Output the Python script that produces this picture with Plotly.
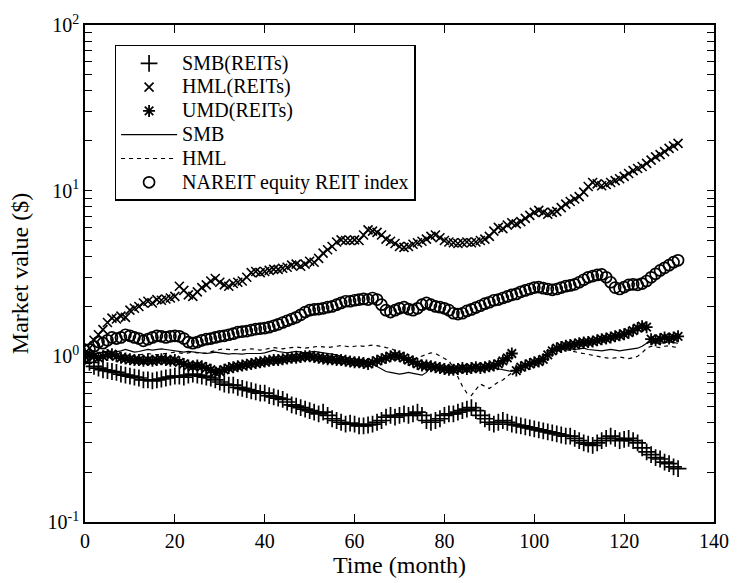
import plotly.graph_objects as go

months = list(range(133))

smb_reits = [1.0, 0.92, 0.87, 0.85, 0.83, 0.82, 0.81, 0.8, 0.78, 0.77, 0.76, 0.75, 0.74, 0.72, 0.72, 0.71, 0.72, 0.73, 0.74, 0.75,
             0.76, 0.76, 0.75, 0.77, 0.78, 0.77, 0.76, 0.75, 0.74, 0.72, 0.7, 0.68, 0.67, 0.67, 0.65, 0.64, 0.63, 0.62, 0.61, 0.6,
             0.6, 0.58, 0.57, 0.56, 0.55, 0.53, 0.51, 0.5, 0.49, 0.48, 0.47, 0.46, 0.45, 0.46, 0.44, 0.42, 0.41, 0.4, 0.39, 0.395,
             0.39, 0.38, 0.38, 0.385, 0.39, 0.4, 0.41, 0.43, 0.44, 0.43, 0.44, 0.45, 0.44, 0.45, 0.46, 0.44, 0.41, 0.4, 0.41, 0.42,
             0.44, 0.45, 0.45, 0.46, 0.47, 0.48, 0.49, 0.47, 0.44, 0.42, 0.4, 0.39, 0.4, 0.41, 0.4, 0.39, 0.385, 0.38, 0.375, 0.37,
             0.365, 0.36, 0.355, 0.35, 0.345, 0.34, 0.335, 0.33, 0.33, 0.32, 0.31, 0.3, 0.295, 0.29, 0.3, 0.31, 0.32, 0.33, 0.32, 0.31,
             0.315, 0.32, 0.31, 0.3, 0.28, 0.265, 0.255, 0.245, 0.24, 0.23, 0.225, 0.215, 0.21]

hml_reits = [1.0, 1.12, 1.25, 1.35, 1.45, 1.6, 1.7, 1.68, 1.75, 1.72, 1.9, 1.95, 2.0, 2.1, 2.15, 2.1, 2.2, 2.18, 2.22, 2.25,
             2.3, 2.65, 2.5, 2.35, 2.3, 2.45, 2.6, 2.7, 2.85, 2.95, 2.8, 2.7, 2.65, 2.75, 2.8, 2.85, 3.0, 3.2, 3.25, 3.2,
             3.25, 3.3, 3.35, 3.35, 3.4, 3.45, 3.55, 3.6, 3.5, 3.6, 3.75, 3.7, 3.9, 4.2, 4.4, 4.6, 4.9, 5.05, 5.0, 5.0,
             5.05, 5.0, 5.4, 5.8, 5.7, 5.6, 5.4, 5.1, 4.95, 4.8, 4.6, 4.55, 4.6, 4.75, 4.85, 4.95, 5.1, 5.3, 5.4, 5.2,
             5.0, 4.9, 4.85, 4.8, 4.85, 4.9, 4.85, 4.9, 5.0, 5.1, 5.3, 5.7, 6.0, 5.9, 6.2, 6.4, 6.3, 6.5, 6.8, 7.1,
             7.4, 7.6, 7.4, 7.2, 7.4, 7.5, 7.9, 8.3, 8.6, 8.9, 9.2, 9.8, 10.6, 11.2, 11.0, 10.7, 10.9, 11.2, 11.5, 11.8,
             12.2, 12.7, 13.2, 13.6, 14.0, 14.6, 15.3, 16.0, 16.5, 17.2, 18.0, 18.6, 19.3]

umd_reits = [1.0, 1.02, 1.0, 0.98, 1.0, 1.02, 1.03, 1.0, 0.98, 0.97, 0.96, 0.95, 0.95, 0.94, 0.95, 0.94, 0.95, 0.96, 0.95, 0.94,
             0.95, 0.92, 0.9, 0.88, 0.87, 0.88, 0.87, 0.85, 0.83, 0.8, 0.81, 0.83, 0.85, 0.86, 0.87, 0.88, 0.89, 0.9, 0.91, 0.92,
             0.93, 0.94, 0.95, 0.95, 0.96, 0.97, 0.98, 0.98, 0.99, 1.0, 1.0, 0.99, 0.98, 0.97, 0.96, 0.96, 0.95, 0.95, 0.94, 0.93,
             0.92, 0.92, 0.91, 0.9, 0.92, 0.94, 0.96, 0.98, 1.0, 1.01, 1.0, 0.98, 0.95, 0.93, 0.9, 0.88, 0.88, 0.87, 0.86, 0.85,
             0.84, 0.83, 0.83, 0.84, 0.85, 0.84, 0.85, 0.86, 0.85, 0.86, 0.87, 0.88, 0.9, 0.94, 0.98, 1.04, 0.82, 0.86, 0.88, 0.9,
             0.92, 0.93, 0.96, 1.02, 1.08, 1.12, 1.14, 1.16, 1.17, 1.18, 1.2, 1.21, 1.22, 1.23, 1.25, 1.27, 1.28, 1.3, 1.32, 1.34,
             1.36, 1.39, 1.43, 1.48, 1.52, 1.5, 1.27, 1.25, 1.27, 1.3, 1.28, 1.3, 1.32]

smb = [1.0, 1.02, 1.04, 1.05, 1.06, 1.07, 1.05, 1.06, 1.08, 1.1, 1.08, 1.06, 1.07, 1.08, 1.1, 1.09, 1.1, 1.11, 1.1, 1.09,
       1.08, 1.07, 1.06, 1.07, 1.06, 1.05, 1.05, 1.04, 1.05, 1.06, 1.05, 1.04, 1.03, 1.04, 1.03, 1.03, 1.04, 1.04, 1.03, 1.04,
       1.05, 1.07, 1.09, 1.07, 1.06, 1.05, 1.06, 1.07, 1.06, 1.05, 1.06, 1.07, 1.06, 1.05, 1.04, 1.03, 1.02, 1.0, 0.98, 0.97,
       0.96, 0.95, 0.94, 0.93, 0.9, 0.87, 0.84, 0.81, 0.8, 0.79, 0.78, 0.79, 0.8, 0.79, 0.78, 0.77, 0.8, 0.86, 0.88, 0.87,
       0.86, 0.85, 0.86, 0.85, 0.84, 0.85, 0.86, 0.85, 0.84, 0.85, 0.86, 0.85, 0.84, 0.83, 0.82, 0.81, 0.83, 0.86, 0.88, 0.9,
       0.93, 0.96, 1.0, 1.04, 1.07, 1.1, 1.11, 1.12, 1.11, 1.1, 1.11, 1.12, 1.1, 1.09, 1.08, 1.08, 1.09, 1.1, 1.09, 1.08,
       1.09, 1.1, 1.11, 1.12, 1.15, 1.2, 1.22, 1.21, 1.2, 1.21, 1.22, 1.21, 1.2]

hml = [1.0, 0.98, 0.97, 0.99, 1.01, 1.0, 0.99, 0.98, 1.0, 1.02, 1.01, 1.0, 1.02, 1.03, 1.04, 1.03, 1.02, 1.03, 1.04, 1.05,
       1.06, 1.05, 1.04, 1.05, 1.06, 1.05, 1.04, 1.05, 1.07, 1.09, 1.1, 1.11, 1.1, 1.09, 1.1, 1.09, 1.1, 1.11, 1.1, 1.09,
       1.1, 1.12, 1.13, 1.12, 1.11, 1.12, 1.13, 1.14, 1.13, 1.12, 1.13, 1.14, 1.15, 1.14, 1.13, 1.14, 1.15, 1.16, 1.15, 1.14,
       1.15, 1.16, 1.15, 1.16, 1.17, 1.16, 1.14, 1.13, 1.12, 1.09, 1.05, 1.0, 0.97, 0.96, 0.98, 1.0, 1.02, 1.05, 1.04, 1.0,
       0.97, 0.94, 0.85, 0.75, 0.66, 0.6, 0.58, 0.63, 0.68, 0.66, 0.64, 0.67, 0.7, 0.72, 0.76, 0.8, 0.84, 0.86, 0.88, 0.9,
       0.93, 0.96, 1.0, 1.04, 1.06, 1.08, 1.09, 1.1, 1.08, 1.06, 1.05, 1.04, 1.03, 1.02, 1.0, 0.99, 0.98, 0.97, 0.98, 0.99,
       0.98, 0.97, 0.98, 1.0, 1.05, 1.12, 1.15, 1.14, 1.13, 1.15, 1.16, 1.14, 1.13]

nareit = [1.0, 1.1, 1.15, 1.22, 1.2, 1.25, 1.3, 1.28, 1.3, 1.35, 1.33, 1.3, 1.28, 1.24, 1.27, 1.3, 1.33, 1.32, 1.3, 1.32,
          1.33, 1.32, 1.28, 1.22, 1.2, 1.22, 1.25, 1.27, 1.28, 1.3, 1.32, 1.33, 1.35, 1.37, 1.4, 1.41, 1.42, 1.44, 1.46, 1.47,
          1.48, 1.5, 1.53, 1.56, 1.6, 1.64, 1.68, 1.72, 1.78, 1.85, 1.9, 1.92, 1.93, 1.95, 1.98, 2.0, 2.05, 2.1, 2.15, 2.15,
          2.18, 2.2, 2.22, 2.2, 2.25, 2.2, 2.05, 1.9, 1.85, 1.9, 1.95, 1.98, 1.93, 1.9, 1.95, 2.05, 2.1, 2.05, 2.0, 1.98,
          1.95, 1.9, 1.82, 1.8, 1.82, 1.88, 1.92, 1.97, 2.02, 2.08, 2.12, 2.18, 2.2, 2.25, 2.3, 2.35, 2.38, 2.45, 2.5, 2.55,
          2.6, 2.62, 2.58, 2.55, 2.52, 2.55, 2.6, 2.65, 2.68, 2.72, 2.8, 2.9, 3.0, 3.05, 3.1, 3.12, 3.0, 2.8, 2.6, 2.55,
          2.62, 2.7, 2.72, 2.7, 2.75, 2.85, 3.0, 3.15, 3.3, 3.42, 3.55, 3.7, 3.8]

series_names = ["SMB(REITs)", "HML(REITs)", "UMD(REITs)", "SMB", "HML", "NAREIT equity REIT index"]

y_major_vals = [0.1, 1, 10, 100]
y_major_text = ["10<sup>-1</sup>", "10<sup>0</sup>", "10<sup>1</sup>", "10<sup>2</sup>"]
y_minor_vals = [m * d for d in (0.1, 1, 10) for m in range(2, 10)]
x_tick_vals = [0, 20, 40, 60, 80, 100, 120, 140]

FONT = "Liberation Serif, Times New Roman, serif"
BLACK = "#000000"


def legend_label(name):
    return '<span style="font-size:20px">' + name + '</span>'


fig = go.Figure()

fig.add_trace(go.Scatter(x=months, y=smb_reits, mode="markers", name=legend_label(series_names[0]),
                         marker=dict(symbol="cross-thin", size=12, color=BLACK,
                                     line=dict(color=BLACK, width=1.7))))
fig.add_trace(go.Scatter(x=months, y=hml_reits, mode="markers", name=legend_label(series_names[1]),
                         marker=dict(symbol="x-thin", size=9, color=BLACK,
                                     line=dict(color=BLACK, width=1.6))))
fig.add_trace(go.Scatter(x=months, y=umd_reits, mode="markers", name=legend_label(series_names[2]),
                         marker=dict(symbol="asterisk", size=10, color=BLACK,
                                     line=dict(color=BLACK, width=1.8))))
fig.add_trace(go.Scatter(x=months, y=smb, mode="lines", name=legend_label(series_names[3]),
                         line=dict(color=BLACK, width=1.2)))
fig.add_trace(go.Scatter(x=months, y=hml, mode="lines", name=legend_label(series_names[4]),
                         line=dict(color=BLACK, width=1.2, dash="4px,4px")))
fig.add_trace(go.Scatter(x=months, y=nareit, mode="markers", name=legend_label(series_names[5]),
                         marker=dict(symbol="circle-open", size=11, color=BLACK,
                                     line=dict(color=BLACK, width=1.7))))

fig.update_layout(
    width=741, height=583,
    margin=dict(l=85, r=16, t=23, b=57),
    paper_bgcolor="white", plot_bgcolor="white",
    font=dict(family=FONT, size=20, color=BLACK),
    showlegend=True,
    legend=dict(x=0.047, y=0.96, xanchor="left", yanchor="top",
                bgcolor="white", bordercolor=BLACK, borderwidth=1.5,
                font=dict(family=FONT, size=16, color=BLACK),
                tracegroupgap=0, itemwidth=56),
)

fig.update_xaxes(range=[0, 140], tickvals=x_tick_vals, ticks="inside", ticklen=8,
                 tickwidth=1.4, tickcolor=BLACK, showline=True, linecolor=BLACK,
                 linewidth=1.5, mirror="allticks", showgrid=False, zeroline=False,
                 title=dict(text="Time (month)", font=dict(size=24), standoff=2),
                 tickfont=dict(size=20))
fig.update_yaxes(type="log", range=[-1, 2],
                 tickmode="array",
                 tickvals=y_major_vals + y_minor_vals,
                 ticktext=y_major_text + [""] * len(y_minor_vals),
                 ticks="inside", ticklen=7, tickwidth=1.3, tickcolor=BLACK,
                 showline=True, linecolor=BLACK, linewidth=1.5, mirror="allticks",
                 showgrid=False, zeroline=False,
                 title=dict(text="Market value ($)", font=dict(size=24), standoff=12),
                 tickfont=dict(size=20))

fig.write_html("out.html", config={"displayModeBar": False},
               post_script="document.body.style.margin='0';")
